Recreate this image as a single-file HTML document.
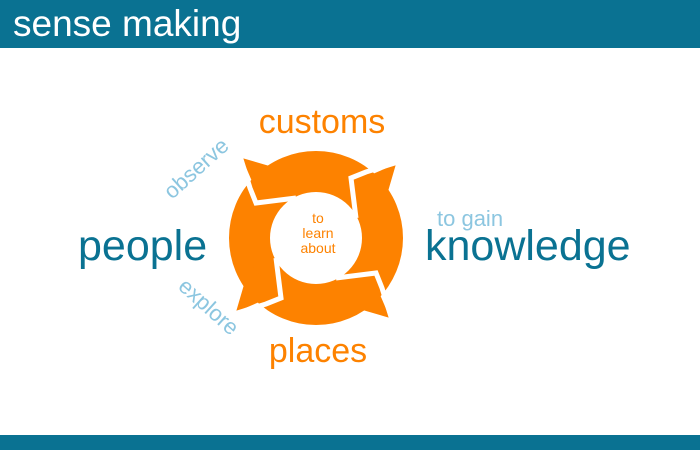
<!DOCTYPE html>
<html><head><meta charset="utf-8"><style>
html,body{margin:0;padding:0;width:700px;height:450px;overflow:hidden;background:#fff;font-family:"Liberation Sans",sans-serif}
</style></head><body>
<svg width="700" height="450" viewBox="0 0 700 450" xmlns="http://www.w3.org/2000/svg" font-family="Liberation Sans, sans-serif">
<rect x="0" y="0" width="700" height="48" fill="#0a7292"/>
<rect x="0" y="435" width="700" height="15" fill="#0a7292"/>
<text x="13" y="36" font-size="37" fill="#fff">sense making</text>
<g transform="translate(316,238)">
<path d="M0,-87 A87,87 0 1,1 0,87 A87,87 0 1,1 0,-87 Z M0,-46 A46,46 0 1,0 0,46 A46,46 0 1,0 0,-46 Z" fill="#fd8200" fill-rule="evenodd"/>
<g id="q">
<polygon points="-56,-38 -74,-80 -26,-66" fill="#fd8200"/>
<polyline points="-20,-40 -60,-35 -66,-50 -76,-82" fill="none" stroke="#fff" stroke-width="5" stroke-linejoin="miter"/>
</g>
<use href="#q" transform="rotate(90)"/>
<use href="#q" transform="rotate(180)"/>
<use href="#q" transform="rotate(270)"/>
</g>
<text x="318" y="223" font-size="14" fill="#fd8200" text-anchor="middle">to</text>
<text x="318" y="238" font-size="14" fill="#fd8200" text-anchor="middle">learn</text>
<text x="318" y="253" font-size="14" fill="#fd8200" text-anchor="middle">about</text>
<text x="322" y="133" font-size="34" fill="#fd8200" text-anchor="middle">customs</text>
<text x="318" y="362" font-size="34" fill="#fd8200" text-anchor="middle">places</text>
<text x="78" y="260" font-size="43" fill="#0a7292">people</text>
<text x="425" y="260" font-size="43" fill="#0a7292">knowledge</text>
<text x="437" y="226" font-size="22" fill="#8cc6e0">to gain</text>
<text x="0" y="0" font-size="22" fill="#8cc6e0" transform="translate(172,200) rotate(-42)">observe</text>
<text x="0" y="0" font-size="22" fill="#8cc6e0" transform="translate(177,288) rotate(42)">explore</text>
</svg>
</body></html>
